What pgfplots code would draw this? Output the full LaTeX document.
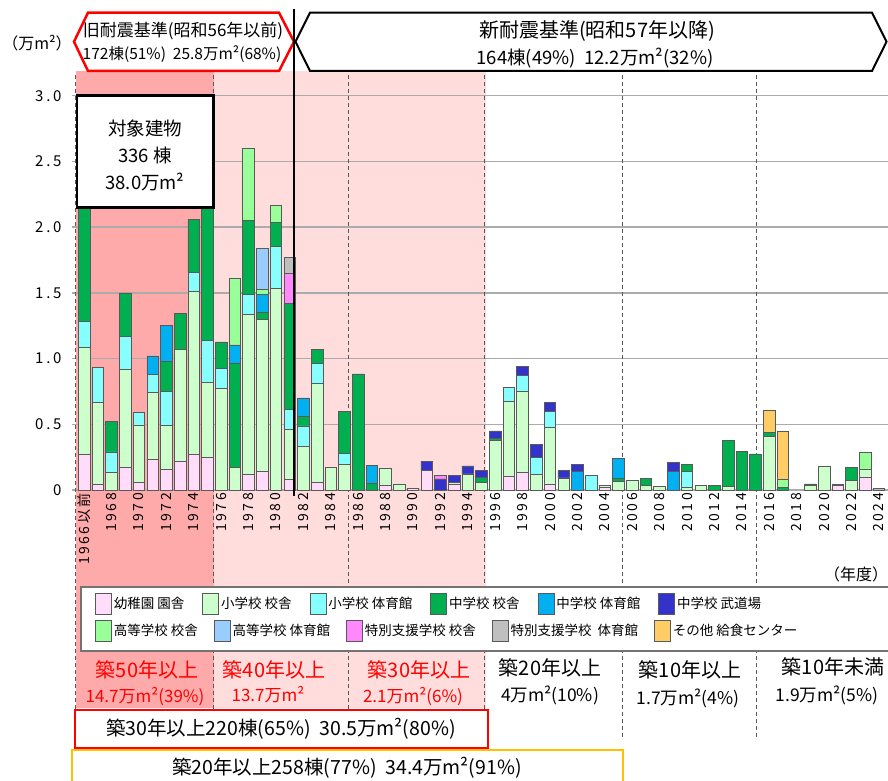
\documentclass[border=0pt]{standalone}
\usepackage{fontspec}
\setmainfont{Noto Sans CJK JP}
\newfontfamily\tickfont{Noto Sans CJK JP}[LetterSpace=18]
\usepackage{pgfplots}
\usepackage{pgfplotstable}
\pgfplotsset{compat=1.18}

\definecolor{cPk}{RGB}{255,221,250}
\definecolor{cLg}{RGB}{204,255,204}
\definecolor{cCy}{RGB}{136,255,255}
\definecolor{cDg}{RGB}{0,176,80}
\definecolor{cBl}{RGB}{0,176,240}
\definecolor{cNv}{RGB}{51,51,204}
\definecolor{cHs}{RGB}{153,255,153}
\definecolor{cHg}{RGB}{153,204,255}
\definecolor{cSp}{RGB}{255,136,255}
\definecolor{cSg}{RGB}{191,191,191}
\definecolor{cOr}{RGB}{255,204,102}
\definecolor{pinkD}{RGB}{255,170,170}
\definecolor{pinkL}{RGB}{255,221,221}
\definecolor{gold}{RGB}{255,192,0}

\newcommand\fs[1]{\fontsize{#1}{#1}\selectfont}
\tikzset{bb/.style={draw=black!65, line width=0.7pt}}

% floor area per year (10^4 m2); x = 0 is "1966 and before", x = 58 is 2024
\pgfplotstableread{
x  pk    lg    cy    dg    bl    nv    hs    hg    sp    sg    or
0  0.270 0.816 0.194 1.670 0     0     0     0     0     0     0
1  0.040 0.627 0.263 0     0     0     0     0     0     0     0
2  0     0.135 0.155 0.230 0     0     0     0     0     0     0
3  0.170 0.750 0.250 0.330 0     0     0     0     0     0     0
4  0.058 0.437 0.095 0     0     0     0     0     0     0     0
5  0.230 0.510 0.140 0     0.140 0     0     0     0     0     0
6  0.157 0.333 0.260 0.227 0.273 0     0     0     0     0     0
7  0.220 0.850 0     0.275 0     0     0     0     0     0     0
8  0.270 1.240 0.145 0.405 0     0     0     0     0     0     0
9  0.250 0.567 0.318 1.405 0     0     0     0     0     0     0
10 0     0.774 0.150 0.203 0     0     0     0     0     0     0
11 0     0.170 0     0.794 0.140 0     0.503 0     0     0     0
12 0.120 1.217 0.153 0.560 0     0     0.550 0     0     0     0
13 0.140 1.160 0     0.053 0.137 0     0.035 0.313 0     0     0
14 0     1.536 0.314 0.185 0     0     0.130 0     0     0     0
15 0.080 0.380 0.150 0.810 0     0     0     0     0.230 0.120 0
16 0     0.330 0.157 0.071 0.142 0     0     0     0     0     0
17 0.060 0.750 0.150 0.110 0     0     0     0     0     0     0
18 0     0.170 0     0     0     0     0     0     0     0     0
19 0     0.195 0.085 0.320 0     0     0     0     0     0     0
20 0     0     0     0.883 0     0     0     0     0     0     0
21 0     0     0     0.050 0.135 0     0     0     0     0     0
22 0.038 0.127 0     0     0     0     0     0     0     0     0
23 0     0.046 0     0     0     0     0     0     0     0     0
24 0.015 0     0     0     0     0     0     0     0     0     0
25 0.147 0     0     0     0     0.073 0     0     0     0     0
26 0     0     0     0     0     0.084 0     0     0.030 0     0
27 0.046 0.012 0     0     0     0.051 0     0     0     0     0
28 0     0.122 0     0     0     0.061 0     0     0     0     0
29 0     0.058 0     0.038 0     0.051 0     0     0     0     0
30 0     0.380 0     0.012 0     0.057 0     0     0     0     0
31 0.107 0.566 0.107 0     0     0     0     0     0     0     0
32 0.132 0.622 0.116 0     0     0.070 0     0     0     0     0
33 0     0.119 0.127 0     0     0.102 0     0     0     0     0
34 0.046 0.431 0.119 0     0     0.069 0     0     0     0     0
35 0     0.092 0     0     0     0.055 0     0     0     0     0
36 0     0     0     0     0.140 0.053 0     0     0     0     0
37 0     0     0.114 0     0     0     0     0     0     0     0
38 0.020 0.013 0     0     0     0     0     0     0     0     0
39 0     0.063 0     0.025 0.153 0     0     0     0     0     0
40 0     0.076 0     0     0     0     0     0     0     0     0
41 0     0.033 0     0.056 0     0     0     0     0     0     0
42 0     0.025 0     0     0     0     0     0     0     0     0
43 0     0     0     0     0.140 0.073 0     0     0     0     0
44 0     0.020 0.120 0.053 0     0     0     0     0     0     0
45 0     0.036 0     0     0     0     0     0     0     0     0
46 0     0     0     0.033 0     0     0     0     0     0     0
47 0     0.030 0     0.350 0     0     0     0     0     0     0
48 0     0     0     0.294 0     0     0     0     0     0     0
49 0     0     0     0.274 0     0     0     0     0     0     0
50 0     0.410 0     0.027 0     0     0     0     0     0     0.167
51 0     0     0     0.018 0     0     0.066 0     0     0     0.365
52 0     0     0     0     0     0     0     0     0     0     0
53 0     0.036 0     0.010 0     0     0     0     0     0     0
54 0     0.183 0     0     0     0     0     0     0     0     0
55 0.038 0.008 0     0     0     0     0     0     0     0     0
56 0     0.076 0     0.097 0     0     0     0     0     0     0
57 0.100 0.060 0     0     0     0     0.127 0     0     0     0
58 0     0     0     0     0     0     0     0     0     0.012 0
}\bldg

\begin{document}
\begin{tikzpicture}
% age band shading behind the axis
\begin{scope}[x=1pt,y=-1pt,yshift=781pt]
\fill[pinkD] (76,71) rectangle (214,708);
\fill[pinkL] (214,71) rectangle (486,708);
\end{scope}

\begin{axis}[
  at={(72pt,291pt)}, anchor=south west,
  scale only axis, width=816pt, height=419pt,
  xmin=-0.89, xmax=58.67, ymin=0, ymax=3.188,
  ybar stacked, bar width=0.85,
  clip=false,
  axis line style={draw=none},
  tick style={draw=none},
  major tick length=0pt,
  ymajorgrids, grid style={draw=black!33, line width=1.3pt},
  ytick={0,0.5,1,1.5,2,2.5,3},
  yticklabels={0,0.5,1.0,1.5,2.0,2.5,3.0},
  yticklabel style={font=\tickfont\fs{15}, anchor=east, xshift=-7pt},
  xtick={0,2,...,58},
  xticklabels={1966以前,1968,1970,1972,1974,1976,1978,1980,1982,1984,1986,1988,1990,1992,1994,1996,1998,2000,2002,2004,2006,2008,2010,2012,2014,2016,2018,2020,2022,2024},
  xticklabel style={font=\tickfont\fs{14}, rotate=90, anchor=east, inner sep=3pt},
]
\addplot[fill=cPk,bb] table[x=x,y=pk]{\bldg};
\addplot[fill=cLg,bb] table[x=x,y=lg]{\bldg};
\addplot[fill=cCy,bb] table[x=x,y=cy]{\bldg};
\addplot[fill=cDg,bb] table[x=x,y=dg]{\bldg};
\addplot[fill=cBl,bb] table[x=x,y=bl]{\bldg};
\addplot[fill=cNv,bb] table[x=x,y=nv]{\bldg};
\addplot[fill=cHs,bb] table[x=x,y=hs]{\bldg};
\addplot[fill=cHg,bb] table[x=x,y=hg]{\bldg};
\addplot[fill=cSp,bb] table[x=x,y=sp]{\bldg};
\addplot[fill=cSg,bb] table[x=x,y=sg]{\bldg};
\addplot[fill=cOr,bb] table[x=x,y=or]{\bldg};

% age band borders
\draw[black!65, line width=1.1pt, dash pattern=on 4pt off 3pt] (axis cs:-0.62,3.158) -- (axis cs:-0.62,-1.887);
\draw[black!65, line width=1.1pt, dash pattern=on 4pt off 3pt] (axis cs:9.47,3.158) -- (axis cs:9.47,-1.887);
\draw[black!65, line width=1.1pt, dash pattern=on 4pt off 3pt] (axis cs:19.29,3.158) -- (axis cs:19.29,-1.887);
\draw[black!65, line width=1.1pt, dash pattern=on 4pt off 3pt] (axis cs:29.22,3.158) -- (axis cs:29.22,-1.887);
\draw[black!65, line width=1.1pt, dash pattern=on 4pt off 3pt] (axis cs:39.26,3.158) -- (axis cs:39.26,-1.887);
\draw[black!65, line width=1.1pt, dash pattern=on 4pt off 3pt] (axis cs:49.04,3.158) -- (axis cs:49.04,-1.887);
\end{axis}

\begin{scope}[x=1pt,y=-1pt,yshift=781pt]
% header
\draw[red, line width=2.5pt, fill=white] (74,41.7) -- (88,12.7) -- (279,12.7) -- (294,41.7) -- (279,71) -- (88,71) -- cycle;
\node[font=\fs{17}] at (183,31) {旧耐震基準(昭和56年以前)};
\node[font=\fs{15.5}] at (182,54) {172棟(51\%)\ \ 25.8万m²(68\%)};
\draw[black, line width=2pt, fill=white] (295.5,41.7) -- (310,12.7) -- (872,12.7) -- (886.5,41.7) -- (872,71) -- (310,71) -- cycle;
\node[font=\fs{20}] at (597,31) {新耐震基準(昭和57年以降)};
\node[font=\fs{18.5}] at (595,58) {164棟(49\%)\ \ 12.2万m²(32\%)};
\draw[black, line width=2pt] (294.3,9) -- (294.3,496);

\node[font=\fs{16}] at (37,43) {（万m²）};
\node[font=\fs{16}] at (856,574) {（年度）};

% total box
\draw[black, line width=2.5pt, fill=white] (77,95.5) rectangle (213.5,207.5);
\node[font=\fs{18.5}] at (145,128) {対象建物};
\node[font=\fs{18.5}] at (145,155) {336 棟};
\node[font=\fs{18.5}] at (145,182) {38.0万m²};

% legend frame
\draw[black!55, line width=1.5pt, fill=white] (81,587) rectangle (895,651);

% age bands
\node[font=\fs{20}, text=red] at (147,670) {築50年以上};
\node[font=\fs{17}, text=red] at (145,697) {14.7万m²(39\%)};
\node[font=\fs{20}, text=red] at (274,670) {築40年以上};
\node[font=\fs{17}, text=red] at (268,695) {13.7万m²};
\node[font=\fs{20}, text=red] at (419,670) {築30年以上};
\node[font=\fs{17}, text=red] at (413,697) {2.1万m²(6\%)};
\node[font=\fs{20}] at (550,668) {築20年以上};
\node[font=\fs{17.5}] at (550,695) {4万m²(10\%)};
\node[font=\fs{20}] at (690,670) {築10年以上};
\node[font=\fs{17.5}] at (688,698) {1.7万m²(4\%)};
\node[font=\fs{20}] at (833,667) {築10年未満};
\node[font=\fs{17.5}] at (827,695) {1.9万m²(5\%)};

\draw[red, line width=2pt, fill=white] (75,710) rectangle (488,748);
\node[font=\fs{19.5}] at (281,729) {築30年以上220棟(65\%)\ \ 30.5万m²(80\%)};
\draw[gold, line width=2pt, fill=white] (72,750) rectangle (623,800);
\node[font=\fs{19.5}] at (347,768) {築20年以上258棟(77\%)\ \ 34.4万m²(91\%)};
\end{scope}

% legend, first row
\begin{axis}[
  at={(72pt,291pt)}, anchor=south west,
  scale only axis, width=816pt, height=419pt,
  xmin=0, xmax=1, ymin=0, ymax=1, hide axis,
  legend image code/.code={\draw[#1] (0pt,-10.5pt) rectangle (16pt,10.5pt);},
  legend style={at={(0.0282,-0.2721)}, anchor=west, draw=none, fill=none,
    inner sep=0pt, font=\fs{13.5}, legend columns=-1,
    nodes={inner sep=2pt},
    /tikz/every even column/.append style={column sep=16pt}},
]
\addlegendimage{fill=cPk,bb}\addlegendentry{幼稚園 園舎}
\addlegendimage{fill=cLg,bb}\addlegendentry{小学校 校舎}
\addlegendimage{fill=cCy,bb}\addlegendentry{小学校 体育館}
\addlegendimage{fill=cDg,bb}\addlegendentry{中学校 校舎}
\addlegendimage{fill=cBl,bb}\addlegendentry{中学校 体育館}
\addlegendimage{fill=cNv,bb}\addlegendentry{中学校 武道場}
\end{axis}

% legend, second row
\begin{axis}[
  at={(72pt,291pt)}, anchor=south west,
  scale only axis, width=816pt, height=419pt,
  xmin=0, xmax=1, ymin=0, ymax=1, hide axis,
  legend image code/.code={\draw[#1] (0pt,-10.5pt) rectangle (16pt,10.5pt);},
  legend style={at={(0.0282,-0.3365)}, anchor=west, draw=none, fill=none,
    inner sep=0pt, font=\fs{13.5}, legend columns=-1,
    nodes={inner sep=2pt},
    /tikz/every even column/.append style={column sep=14pt}},
]
\addlegendimage{fill=cHs,bb}\addlegendentry{高等学校 校舎}
\addlegendimage{fill=cHg,bb}\addlegendentry{高等学校 体育館}
\addlegendimage{fill=cSp,bb}\addlegendentry{特別支援学校 校舎}
\addlegendimage{fill=cSg,bb}\addlegendentry{特別支援学校\ \ 体育館}
\addlegendimage{fill=cOr,bb}\addlegendentry{その他 給食センター}
\end{axis}

\pgfresetboundingbox
\path (0,0) rectangle (888pt,781pt);
\end{tikzpicture}
\end{document}
